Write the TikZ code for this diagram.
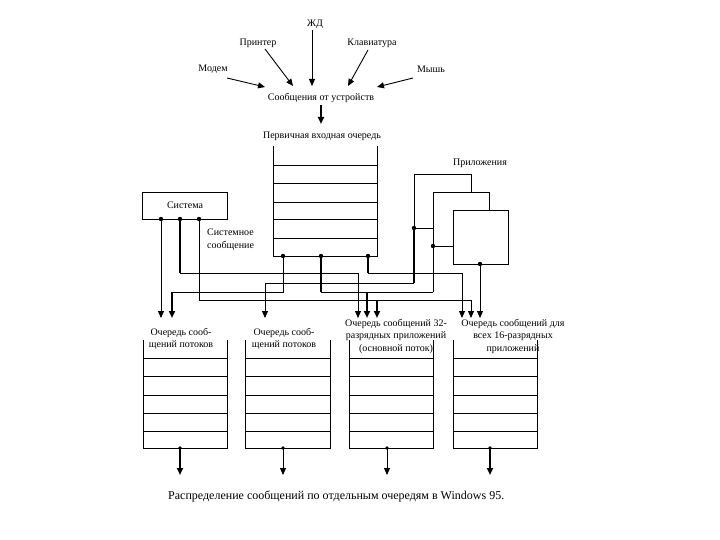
\documentclass[tikz,border=0pt]{standalone}
\usepackage{fontspec}
\setmainfont{Liberation Serif}
\usetikzlibrary{arrows.meta}
\begin{document}
\begin{tikzpicture}[x=1pt,y=-1pt,
  lbl/.style={font=\fontsize{10}{12.5}\selectfont, inner sep=0pt, align=center},
  captxt/.style={font=\fontsize{12}{14}\selectfont, inner sep=0pt},
  wthin/.style={line width=0.9pt},
  wthick/.style={line width=1.9pt},
  qline/.style={line width=0.9pt},
  arr/.style={-{Triangle[length=7pt,width=6pt]}},
  dotc/.style={fill=black}
]
\useasboundingbox (0,0) rectangle (720,540);

% ---------- devices ----------
\node[lbl] (zhd) at (315,24) {ЖД};
\node[lbl] (printer) at (258,43) {Принтер};
\node[lbl] (kbd) at (372,43) {Клавиатура};
\node[lbl] (modem) at (213,69) {Модем};
\node[lbl] (mouse) at (431,69) {Мышь};
\node[lbl] (dev) at (321,98) {Сообщения от устройств};
\node[lbl] (prim) at (322,136) {Первичная входная очередь};

\coordinate (zhdS) at (312,30);   \coordinate (zhdT) at (312,86);
\coordinate (prnS) at (265,49);   \coordinate (prnT) at (293,86);
\coordinate (kbdS) at (368,50);   \coordinate (kbdT) at (348,86);
\coordinate (modS) at (227,78);   \coordinate (modT) at (265,87);
\coordinate (mouS) at (413,78);   \coordinate (mouT) at (377,87);
\coordinate (devS) at (321,105);  \coordinate (devT) at (321,124);

\draw[wthin,arr] (zhdS) -- (zhdT);
\draw[wthin,arr] (prnS) -- (prnT);
\draw[wthin,arr] (kbdS) -- (kbdT);
\draw[wthin,arr] (modS) -- (modT);
\draw[wthin,arr] (mouS) -- (mouT);
\draw[wthick,arr] (devS) -- (devT);

% ---------- primary queue ----------
\draw[qline] (273,146) -- (273,256) -- (377,256) -- (377,146);
\foreach \yy in {165,183,202,219,238} \draw[qline] (273,\yy) -- (377,\yy);

% ---------- applications ----------
\node[lbl] (apps) at (480,163) {Приложения};
\draw[qline,fill=white] (414,174) rectangle (471,228);
\draw[qline,fill=white] (433,192) rectangle (489,246);
\draw[qline,fill=white] (453,210) rectangle (508,264);

% ---------- system ----------
\draw[qline] (142,192) rectangle (227,219);
\node[lbl] (sys) at (185,205) {Система};
\node[lbl, align=left, anchor=west] (sysmsg) at (207,239.5) {Системное\\сообщение};

% ---------- source points ----------
\coordinate (s1) at (161,219);
\coordinate (s2) at (180,219);
\coordinate (s3) at (199,219);
\coordinate (p1) at (283,256);
\coordinate (p2) at (321,256);
\coordinate (p3) at (368,256);
\coordinate (a1) at (414,228);
\coordinate (a2) at (433,246);
\coordinate (a3) at (480,264);

% ---------- arrow targets ----------
\coordinate (q1a) at (161,318);
\coordinate (q1b) at (172,318);
\coordinate (q2a) at (265,318);
\coordinate (q3a) at (358,318);
\coordinate (q3b) at (367,318);
\coordinate (q3c) at (377,318);
\coordinate (q4a) at (462,318);
\coordinate (q4b) at (471,318);
\coordinate (q4c) at (480,318);

% ---------- corners / junctions ----------
\coordinate (c2) at (180,273);
\coordinate (c3) at (471,300);
\coordinate (j3) at (377,300);
\coordinate (c4) at (172,292);
\coordinate (c5) at (321,292);
\coordinate (c6) at (433,292);
\coordinate (j5) at (367,292);
\coordinate (c7) at (368,273);
\coordinate (c8) at (414,283);

% ---------- wires ----------
\draw[wthin,arr] (s1) -- (q1a);
\draw[wthick] (s2) -- (c2);
\draw[wthin,arr] (c2) -| (q3a);
\draw[wthin,arr] (s3) |- (c3) -- (q4b);
\draw[wthick,arr] (j3) -- (q3c);
\draw[wthin] (p1) |- (c4);
\draw[wthick,arr] (c4) -- (q1b);
\draw[wthick] (p2) -- (c5);
\draw[wthin] (c5) -- (c6);
\draw[wthin] (a2) -- (c6);
\draw[wthick,arr] (j5) -- (q3b);
\draw[wthick] (p3) -- (c7);
\draw[wthin,arr] (c7) -| (q4a);
\draw[wthick] (a1) -- (c8);
\draw[wthin,arr] (c8) -| (q2a);
\draw[wthin,arr] (a3) -- (q4c);

\foreach \pt in {s1,s2,s3,p1,p2,p3,a1,a2,a3} \fill[dotc] (\pt) circle (2.2);

% ---------- bottom queues ----------
\foreach \xl/\xr in {143/227,245/330,349/433,453/537} {
  \draw[qline] (\xl,340) -- (\xl,448) -- (\xr,448) -- (\xr,340);
  \foreach \yy in {358,376,395,413,431} \draw[qline] (\xl,\yy) -- (\xr,\yy);
}
\node[lbl] (q1l) at (181,339) {Очередь сооб-\\щений потоков};
\node[lbl] (q2l) at (284,339) {Очередь сооб-\\щений потоков};
\node[lbl] (q3l) at (396,336) {Очередь сообщений 32-\\разрядных приложений\\(основной поток)};
\node[lbl] (q4l) at (513,336) {Очередь сообщений для\\всех 16-разрядных\\приложений};

\coordinate (o1) at (180,448); \coordinate (o1t) at (180,475);
\coordinate (o2) at (283,448); \coordinate (o2t) at (283,475);
\coordinate (o3) at (387,448); \coordinate (o3t) at (387,475);
\coordinate (o4) at (490,448); \coordinate (o4t) at (490,475);
\draw[wthick,arr] (o1) -- (o1t);
\draw[wthin,arr] (o2) -- (o2t);
\draw[wthin,arr] (o3) -- (o3t);
\draw[wthick,arr] (o4) -- (o4t);
\foreach \pt in {o1,o2,o3,o4} \fill[dotc] (\pt) circle (1.8);

% ---------- caption ----------
\node[captxt, anchor=west] (caption) at (168,496) {Распределение сообщений по отдельным очередям в Windows 95.};
\end{tikzpicture}
\end{document}
